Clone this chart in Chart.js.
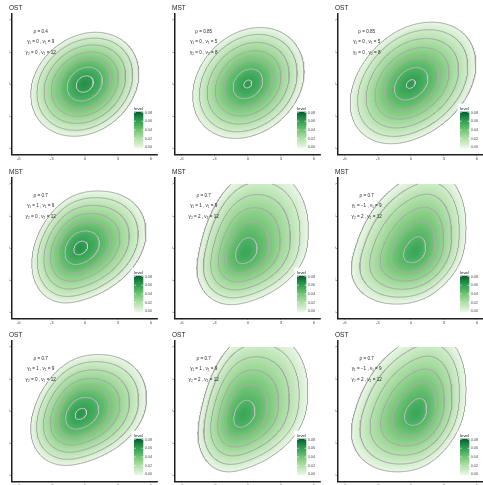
<!DOCTYPE html>
<html>
<head>
<meta charset="utf-8">
<script src="https://cdn.jsdelivr.net/npm/chart.js@4.4.1/dist/chart.umd.min.js"></script>
<style>
  body { margin: 0; background: #fff; }
  #wrap { position: relative; width: 483px; height: 485px; overflow: hidden; background: #fff; }
  #wrap canvas { position: absolute; }
</style>
</head>
<body>
<div id="wrap"></div>
<script>
// panel labels
const panelType = ["OST", "MST", "OST", "MST", "MST", "MST", "OST", "OST", "OST"];
const rho = ["0.4", "0.85", "0.85", "0.7", "0.7", "0.7", "0.7", "0.7", "0.7"];
const gamma1 = ["0", "0", "0", "1", "1", "\u22121", "1", "1", "\u22121"];
const nu1 = [9, 5, 5, 9, 9, 9, 9, 9, 9];
const gamma2 = ["0", "0", "0", "0", "2", "2", "0", "2", "2"];
const nu2 = [12, 8, 8, 12, 12, 12, 12, 12, 12];

// shape of each density surface
const peakLevel = [0.0672, 0.0626, 0.0626, 0.0651, 0.0579, 0.0579, 0.064, 0.0579, 0.0579];
const modeX = [0, 0, 0, -0.4, -0.2, 0.4, -0.37, -0.4, 0.5];
const modeY = [0, 0, 0, 0, -0.4, -0.3, -0.28, -0.4, -0.2];
const leftX = [-4.9, -5.0, -5.5, -4.8, -4.6, -5.4, -4.9, -4.5, -5.4];
const rightX = [4.9, 5.1, 5.9, 5.55, 5.5, 5.0, 5.6, 5.45, 5.0];
const bottomY = [-4.9, -5.1, -5.6, -5.15, -5.3, -5.25, -5.1, -5.7, -5.7];
const topY = [4.85, 5.3, 5.8, 5.35, 7.2, 7.2, 5.3, 7.3, 7.3];
const tilt = [0.2, 0.22, 0.32, 0.28, 0.28, 0.3, 0.28, 0.3, 0.3];

const contourLevels = [0.001, 0.01, 0.02, 0.03, 0.04, 0.05, 0.06];
const legendBreaks = [0, 0.02, 0.04, 0.06, 0.08];
const legendMax = 0.082;
const axisTicks = [-6, -3, 0, 3, 6];
const gridMin = -6, gridMax = 6, gridN = 201;
const profilePower = 0.6;

const greens = ["#edf8e9", "#c7e9c0", "#a1d99b", "#74c476", "#41ab5d", "#238b45", "#005a32"];
const lineGrey = [165, 166, 166, 168, 172, 188, 206];
const FONT = "'Liberation Sans', Arial, sans-serif";
Chart.defaults.font.family = FONT;

const step = (gridMax - gridMin) / (gridN - 1);
const greensRgb = greens.map(h => [1, 3, 5].map(i => parseInt(h.slice(i, i + 2), 16)));

function fillColour(v) {
  let t = Math.max(0, Math.min(1, v / legendMax)) * (greensRgb.length - 1);
  const i = Math.min(greensRgb.length - 2, Math.floor(t));
  t -= i;
  return greensRgb[i].map((c, j) => Math.round(c + (greensRgb[i + 1][j] - c) * t));
}

function makeDensity(k) {
  const p = peakLevel[k];
  // normalised radius at which the outer level is reached
  const r0 = Math.pow(1 - contourLevels[0] / p, 1 / (2 * profilePower));
  const sxL = (modeX[k] - leftX[k]) / r0, sxR = (rightX[k] - modeX[k]) / r0;
  const syD = (modeY[k] - bottomY[k]) / r0, syU = (topY[k] - modeY[k]) / r0;
  const r = tilt[k], det = 1 - r * r;
  return (x, y) => {
    const dx = x - modeX[k], dy = y - modeY[k];
    const wx = 1 / (1 + Math.exp(-dx / 0.9));
    const wy = 1 / (1 + Math.exp(-dy / 0.9));
    const a = dx / (sxL + (sxR - sxL) * wx);
    const b = dy / (syD + (syU - syD) * wy);
    const q = (a * a - 2 * r * a * b + b * b) / det;
    return Math.max(0, p * (1 - Math.pow(q, profilePower)));
  };
}

function sampleGrid(f) {
  const vals = new Float64Array(gridN * gridN);
  for (let j = 0; j < gridN; j++)
    for (let i = 0; i < gridN; i++)
      vals[j * gridN + i] = f(gridMin + i * step, gridMin + j * step);
  return vals;
}

// marching squares, segments chained into polylines
function traceLevel(vals, L) {
  const n = gridN;
  const pts = new Map(), adj = new Map();
  const edgePt = (key, x, y) => {
    if (!pts.has(key)) { pts.set(key, { x, y }); adj.set(key, []); }
    return key;
  };
  const hEdge = (i, j, va, vb) => edgePt(2 * (j * n + i), gridMin + (i + (L - va) / (vb - va)) * step, gridMin + j * step);
  const vEdge = (i, j, va, vb) => edgePt(2 * (j * n + i) + 1, gridMin + i * step, gridMin + (j + (L - va) / (vb - va)) * step);
  const link = (p, q) => { adj.get(p).push(q); adj.get(q).push(p); };

  for (let j = 0; j < n - 1; j++) {
    for (let i = 0; i < n - 1; i++) {
      const v00 = vals[j * n + i], v10 = vals[j * n + i + 1];
      const v01 = vals[(j + 1) * n + i], v11 = vals[(j + 1) * n + i + 1];
      const b0 = v00 > L, b1 = v10 > L, b2 = v11 > L, b3 = v01 > L;
      if (b0 === b1 && b1 === b2 && b2 === b3) continue;
      const bottom = b0 !== b1 ? hEdge(i, j, v00, v10) : -1;
      const right = b1 !== b2 ? vEdge(i + 1, j, v10, v11) : -1;
      const top = b3 !== b2 ? hEdge(i, j + 1, v01, v11) : -1;
      const left = b0 !== b3 ? vEdge(i, j, v00, v01) : -1;
      const e = [bottom, right, top, left].filter(v => v >= 0);
      if (e.length === 2) link(e[0], e[1]);
      else if (e.length === 4) {
        const centre = (v00 + v10 + v01 + v11) / 4 > L;
        if (centre === b0) { link(bottom, right); link(top, left); }
        else { link(left, bottom); link(top, right); }
      }
    }
  }

  const used = new Set();
  const out = [];
  const walk = start => {
    used.add(start);
    const line = [pts.get(start)];
    let cur = start;
    for (;;) {
      const nb = adj.get(cur);
      let next = -1;
      for (const q of nb) if (!used.has(q)) { next = q; break; }
      if (next < 0) {
        if (nb.includes(start) && line.length > 2) line.push(pts.get(start));
        break;
      }
      used.add(next);
      line.push(pts.get(next));
      cur = next;
    }
    line.forEach(p => out.push({ x: p.x, y: p.y }));
    out.push({ x: NaN, y: null });
  };
  for (const [key, nb] of adj) if (nb.length === 1 && !used.has(key)) walk(key);
  for (const key of adj.keys()) if (!used.has(key)) walk(key);
  return out;
}

// density raster under the contour lines
const densityFill = {
  id: "densityFill",
  beforeDatasetsDraw(chart, args, opts) {
    const f = opts.fn;
    const xs = chart.scales.x, ys = chart.scales.y;
    const x0 = Math.floor(xs.getPixelForValue(gridMin)), x1 = Math.ceil(xs.getPixelForValue(gridMax));
    const y0 = Math.floor(ys.getPixelForValue(gridMax)), y1 = Math.ceil(ys.getPixelForValue(gridMin));
    const w = x1 - x0, h = y1 - y0;
    const off = document.createElement("canvas");
    off.width = w; off.height = h;
    const octx = off.getContext("2d");
    const img = octx.createImageData(w, h);
    for (let py = 0; py < h; py++) {
      const vy = ys.getValueForPixel(y0 + py + 0.5);
      if (vy < gridMin || vy > gridMax) continue;
      for (let px = 0; px < w; px++) {
        const vx = xs.getValueForPixel(x0 + px + 0.5);
        if (vx < gridMin || vx > gridMax) continue;
        const v = f(vx, vy);
        if (v < contourLevels[0]) continue;
        const c = fillColour(v);
        const o = (py * w + px) * 4;
        img.data[o] = c[0]; img.data[o + 1] = c[1]; img.data[o + 2] = c[2]; img.data[o + 3] = 255;
      }
    }
    octx.putImageData(img, 0, 0);
    chart.ctx.drawImage(off, x0, y0);
  }
};

// parameter text and colour bar
const panelExtras = {
  id: "panelExtras",
  afterDatasetsDraw(chart, args, opts) {
    const k = opts.panel;
    const ctx = chart.ctx;
    const xs = chart.scales.x, ys = chart.scales.y;
    ctx.save();
    ctx.fillStyle = "#262626";
    ctx.font = `4.6px ${FONT}`;
    ctx.textAlign = "center";
    ctx.textBaseline = "middle";
    const tx = xs.getPixelForValue(-4);
    ctx.fillText(`\u03c1 = ${rho[k]}`, tx, ys.getPixelForValue(4.9));
    ctx.fillText(`\u03b3\u2081 = ${gamma1[k]} , \u03bd\u2081 = ${nu1[k]}`, tx, ys.getPixelForValue(3.95));
    ctx.fillText(`\u03b3\u2082 = ${gamma2[k]} , \u03bd\u2082 = ${nu2[k]}`, tx, ys.getPixelForValue(2.95));

    const area = chart.chartArea;
    const bx = area.right - 23.6, bw = 9.3;
    const by = area.bottom - 42.7, bh = 36.6;
    ctx.fillStyle = "#fff";
    ctx.fillRect(bx - 2.5, by - 8, 24, bh + 10.5);
    ctx.fillStyle = "#1a1a1a";
    ctx.font = `4.4px ${FONT}`;
    ctx.textAlign = "left";
    ctx.textBaseline = "alphabetic";
    ctx.fillText("level", bx, by - 2.2);
    const g = ctx.createLinearGradient(0, by + bh, 0, by);
    greens.forEach((c, i) => g.addColorStop(i / (greens.length - 1), c));
    ctx.fillStyle = g;
    ctx.fillRect(bx, by, bw, bh);
    ctx.font = `3.8px ${FONT}`;
    ctx.textBaseline = "middle";
    legendBreaks.forEach(v => {
      const yy = by + bh - 1 - (v / legendMax) * (bh - 1);
      ctx.strokeStyle = "#fff";
      ctx.lineWidth = 0.6;
      ctx.beginPath();
      ctx.moveTo(bx, yy); ctx.lineTo(bx + 1.8, yy);
      ctx.moveTo(bx + bw - 1.8, yy); ctx.lineTo(bx + bw, yy);
      ctx.stroke();
      ctx.fillStyle = "#4d4d4d";
      ctx.fillText(v.toFixed(2), bx + bw + 1.4, yy);
    });
    ctx.restore();
  }
};

const wrap = document.getElementById("wrap");
const colLeft = [0, 163, 326];
const rowTop = [0, 164, 327];

for (let k = 0; k < 9; k++) {
  const canvas = document.createElement("canvas");
  canvas.width = 161;
  canvas.height = 163;
  canvas.style.left = colLeft[k % 3] + "px";
  canvas.style.top = rowTop[Math.floor(k / 3)] + "px";
  wrap.appendChild(canvas);

  const f = makeDensity(k);
  const grid = sampleGrid(f);
  const datasets = contourLevels.map((L, li) => ({
    data: traceLevel(grid, L),
    showLine: true,
    spanGaps: false,
    borderColor: `rgb(${lineGrey[li]},${lineGrey[li]},${lineGrey[li]})`,
    borderWidth: 1,
    pointRadius: 0,
    tension: 0
  }));

  const axisCommon = {
    type: "linear",
    min: -6.6,
    max: 6.6,
    afterBuildTicks: s => { s.ticks = axisTicks.map(v => ({ value: v })); },
    ticks: {
      font: { size: 4.2 },
      color: "#4d4d4d",
      padding: 0.8,
      maxRotation: 0,
      autoSkip: false,
      callback: v => String(v)
    },
    grid: { drawOnChartArea: false, drawTicks: true, tickLength: 1.6, color: "#333", lineWidth: 0.7 },
    border: { display: true, color: "#1f1f1f", width: 1.5 }
  };

  new Chart(canvas, {
    type: "scatter",
    data: { datasets },
    plugins: [densityFill, panelExtras],
    options: {
      responsive: false,
      animation: false,
      devicePixelRatio: 1,
      events: [],
      layout: { padding: { left: 9, right: 3.4, top: 0, bottom: 0 } },
      scales: {
        x: Object.assign({}, axisCommon, { afterFit: s => { s.height = 8.6; } }),
        y: Object.assign({}, axisCommon, { afterFit: s => { s.width = 3; } })
      },
      plugins: {
        legend: { display: false },
        tooltip: { enabled: false },
        title: {
          display: true,
          text: panelType[k],
          align: "start",
          color: "#1a1a1a",
          font: { size: 6.5, weight: "normal" },
          padding: { top: 4.5, bottom: 1.3 }
        },
        densityFill: { fn: f },
        panelExtras: { panel: k }
      }
    }
  });
}
</script>
</body>
</html>
